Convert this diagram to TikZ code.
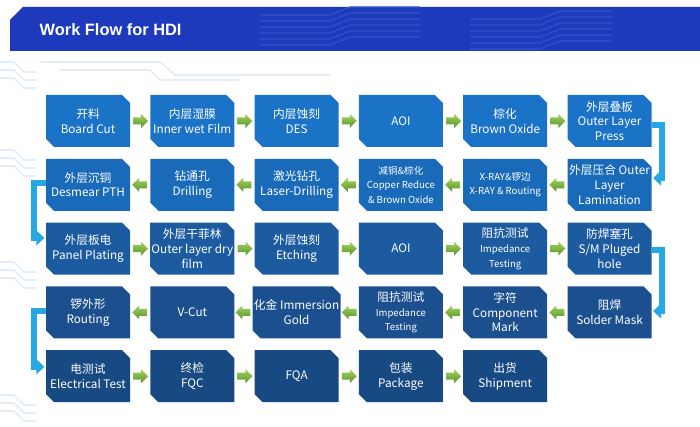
\documentclass[tikz,border=0pt]{standalone}
\usepackage{fontspec}
\setmainfont{Noto Sans CJK SC}
\newfontfamily\titlefont{Liberation Sans}
\usetikzlibrary{arrows.meta, calc, positioning}
\definecolor{barblue}{RGB}{29,58,188}
\definecolor{barline}{RGB}{48,82,200}
\definecolor{rowa}{RGB}{27,115,200}
\definecolor{rowb}{RGB}{26,106,186}
\definecolor{rowc}{RGB}{29,91,160}
\definecolor{rowd}{RGB}{27,79,142}
\definecolor{rowe}{RGB}{23,73,130}
\definecolor{turnblue}{RGB}{38,168,228}
\definecolor{greentop}{RGB}{165,210,95}
\definecolor{greenbot}{RGB}{88,148,42}
\definecolor{trace}{RGB}{228,237,248}
\newcommand{\smallfont}{\fontsize{7.2}{9}\selectfont}
% green block arrows between two boxes
\newcommand{\goright}[2]{\path[top color=greentop, bottom color=greenbot]
  ($(#1.east)!.5!(#2.west)$) ++(-7,-3.5) -- ++(8,0) -- ++(0,-3.5) -- ++(7,7)
  -- ++(-7,7) -- ++(0,-3.5) -- ++(-8,0) -- cycle;}
\newcommand{\goleft}[2]{\path[top color=greentop, bottom color=greenbot]
  ($(#1.west)!.5!(#2.east)$) ++(7,-3.5) -- ++(-8,0) -- ++(0,-3.5) -- ++(-7,7)
  -- ++(7,7) -- ++(0,-3.5) -- ++(8,0) -- cycle;}
\tikzset{
  stepbox/.style={minimum width=63pt, minimum height=39pt, inner sep=1pt,
    align=center, text=white, font=\fontsize{8.8}{11}\selectfont,
    path picture={\fill[#1] (path picture bounding box.north west)
      -- ([xshift=-6pt]path picture bounding box.north east)
      -- ([yshift=-6pt]path picture bounding box.north east)
      -- (path picture bounding box.south east)
      -- ([xshift=6pt]path picture bounding box.south west)
      -- ([yshift=6pt]path picture bounding box.south west) -- cycle;}},
  turn/.style={draw=turnblue, line width=4.5pt,
    -{Triangle[width=11pt,length=6pt]}, shorten >=1pt},
  faint/.style={draw=trace, line width=1.2pt}
}
\begin{document}
\begin{tikzpicture}[x=0.75pt, y=-0.75pt]
  \useasboundingbox (0,0) rectangle (700,427);
  % faint circuit traces in the background
  \foreach \y in {62,70,78,150,158,166,262,270,278,395,403,411}{
    \draw[faint] (0,\y) -- (14,\y) -- (24,\y+10) -- (36,\y+10);
  }
  \draw[faint] (40,62) -- (160,62) -- (175,75) -- (330,75);
  \draw[faint] (60,70) -- (150,70) -- (160,80) -- (240,80);
  % title bar
  \fill[barblue] (10,20) -- (23,7) -- (700,7) -- (700,51) -- (10,51) -- cycle;
  \foreach \y in {15,21,27,33,39,45}{
    \draw[barline, line width=0.8pt] (260,\y) -- (330,\y) -- (350,\y-8) -- (420,\y-8);
    \draw[barline, line width=0.8pt] (470,\y+4) -- (540,\y+4) -- (560,\y-4) -- (612,\y-4);
  }
  \node[anchor=west, text=white, font=\titlefont\bfseries\fontsize{12.3}{14}\selectfont]
    (title) at (35,30) {Work Flow for HDI};
  % row 1
  \foreach \c/\txt in {1/{开料\\Board Cut}, 2/{内层湿膜\\Inner wet Film},
      3/{内层蚀刻\\DES}, 4/{AOI}, 5/{棕化\\Brown Oxide},
      6/{外层叠板\\Outer Layer\\Press}}{
    \node[stepbox=rowa] (r1c\c) at ({88+104.3*(\c-1)},121) {\txt};
  }
  % row 2
  \foreach \c/\txt in {1/{外层沉铜\\Desmear PTH}, 2/{钻通孔\\Drilling},
      3/{激光钻孔\\Laser-Drilling},
      4/{\smallfont 减铜\&棕化\\\smallfont Copper Reduce\\\smallfont \& Brown Oxide},
      5/{\smallfont X-RAY\&锣边\\\smallfont X-RAY \& Routing},
      6/{外层压合 Outer\\Layer\\Lamination}}{
    \node[stepbox=rowb] (r2c\c) at ({88+104.3*(\c-1)},184.8) {\txt};
  }
  % row 3
  \foreach \c/\txt in {1/{外层板电\\Panel Plating}, 2/{外层干菲林\\Outer layer dry\\film},
      3/{外层蚀刻\\Etching}, 4/{AOI},
      5/{阻抗测试\\\smallfont Impedance\\\smallfont Testing},
      6/{防焊塞孔\\S/M Pluged\\hole}}{
    \node[stepbox=rowc] (r3c\c) at ({88+104.3*(\c-1)},248.6) {\txt};
  }
  % row 4
  \foreach \c/\txt in {1/{锣外形\\Routing}, 2/{V-Cut}, 3/{化金 Immersion\\Gold},
      4/{阻抗测试\\\smallfont Impedance\\\smallfont Testing}, 5/{字符\\Component\\Mark},
      6/{阻焊\\Solder Mask}}{
    \node[stepbox=rowd] (r4c\c) at ({88+104.3*(\c-1)},312.4) {\txt};
  }
  % row 5
  \foreach \c/\txt in {1/{电测试\\Electrical Test}, 2/{终检\\FQC}, 3/{FQA},
      4/{包装\\Package}, 5/{出货\\Shipment}}{
    \node[stepbox=rowe] (r5c\c) at ({88+104.3*(\c-1)},376.2) {\txt};
  }
  % green arrows
  \foreach \a/\b in {1/2,2/3,3/4,4/5,5/6}{
    \goright{r1c\a}{r1c\b}
    \goleft{r2c\b}{r2c\a}
    \goright{r3c\a}{r3c\b}
    \goleft{r4c\b}{r4c\a}
  }
  \foreach \a/\b in {1/2,2/3,3/4,4/5}{
    \goright{r5c\a}{r5c\b}
  }
  % turns between rows
  \draw[turn] ([yshift=-3pt]r1c6.east) -- ++(10,0) |- ([yshift=5pt]r2c6.east);
  \draw[turn] ([yshift=1pt]r2c1.west) -- ++(-12,0) |- ([yshift=8pt]r3c1.west);
  \draw[turn] ([yshift=-1pt]r3c6.east) -- ++(10,0) |- ([yshift=1pt]r4c6.east);
  \draw[turn] ([yshift=1pt]r4c1.west) -- ++(-12,0) |- ([yshift=7pt]r5c1.west);
\end{tikzpicture}
\end{document}
